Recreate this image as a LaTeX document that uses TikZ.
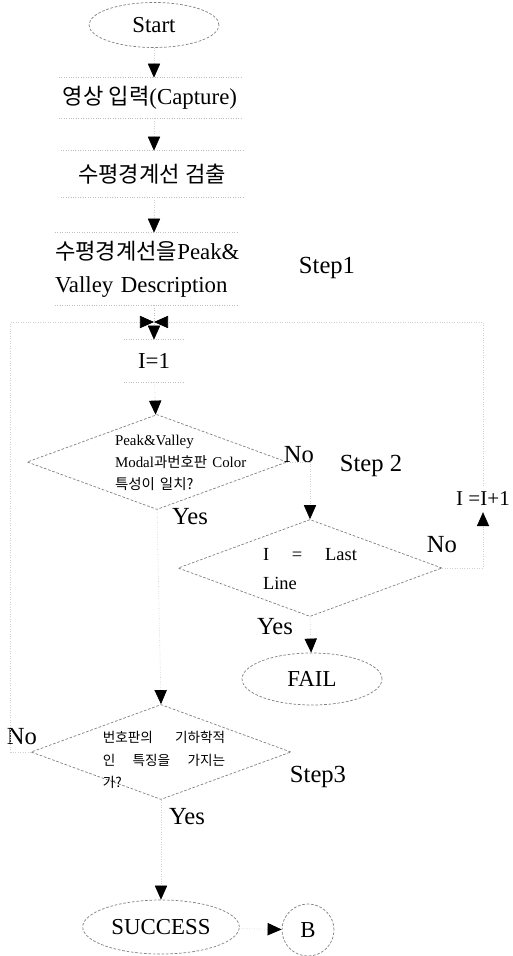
\documentclass[tikz,border=0pt]{standalone}
\usepackage{fontspec}
\setmainfont{Liberation Serif}
\newfontfamily\kr[Scale=0.97]{Noto Sans CJK KR}
\usetikzlibrary{shapes.geometric,arrows.meta}

\begin{document}
\begin{tikzpicture}[x=0.02cm,y=-0.02cm,
    term/.style={draw=black!50,dash pattern=on 1.5pt off 1pt,ellipse,minimum width=2.6cm,minimum height=0.9cm,font=\fontsize{13}{15}\selectfont},
    proc/.style={minimum width=3.64cm,inner sep=0pt,font=\fontsize{13}{15}\selectfont},
    rim/.style={draw=black!25,densely dotted},
    cond/.style={draw=black!50,dash pattern=on 1.5pt off 1pt,diamond,minimum width=5.2cm,minimum height=1.9cm,inner sep=0pt},
    ctext/.style={align=left,inner sep=0pt,font=\fontsize{8.5}{12.5}\selectfont},
    lbl/.style={font=\fontsize{14}{16}\selectfont},
    link/.style={draw=black!18,densely dotted,-{Triangle[length=8pt,width=7pt,color=black]}}]
    \useasboundingbox (0,0) rectangle (513,956);

    % main column
    \node[term] (start) at (154,25) {Start};
    \node[proc,minimum height=0.8cm] (cap) at (150,98) {{\kr 영상 입력}(Capture)};
    \node[proc,minimum height=0.92cm] (det) at (152,174) {\kr 수평경계선 검출};
    \node[proc,minimum height=1.44cm,align=left,text width=3.64cm] (des) at (146,269) {{\kr 수평경계선을}Peak\&\\[4pt]Valley Description};
    \coordinate (join) at (154,322);
    \node[proc,minimum width=1.2cm,minimum height=0.84cm] (init) at (154,361) {I=1};
    \foreach \b in {cap,det,des,init} {
        \draw[rim] (\b.north west) -- (\b.north east) (\b.south west) -- (\b.south east);
    }

    % decisions
    \node[cond] (d1) at (157,462) {};
    \node[ctext,text width=2.8cm] (d1t) at (185,463) {Peak\&Valley\\Modal{\kr 과번호판} Color\\{\kr 특성이 일치?}};
    \node[cond,minimum width=5.28cm,minimum height=1.94cm] (d2) at (310,568) {};
    \node[ctext,text width=1.88cm,font=\fontsize{10.5}{16.5}\selectfont] (d2t) at (310,569) {I\hfill=\hfill Last\\Line};
    \node[cond] (d3) at (161,752) {};
    \node[ctext,text width=2.45cm,font=\fontsize{8}{12.8}\selectfont] (d3t) at (164,760) {{\kr 번호판의}\hfill{\kr 기하학적}\\{\kr 인}\hfill{\kr 특징을}\hfill{\kr 가지는}\\{\kr 가?}};
    \node[term,minimum width=2.8cm,minimum height=1.04cm] (fail) at (312,679) {FAIL};
    \node[term,minimum width=2.8cm,minimum height=1.08cm] (succ) at (161,927) {SUCCESS};
    \node[term,circle,minimum size=1.04cm] (b) at (308,930) {B};
    \node[lbl,font=\fontsize{12}{14}\selectfont] (inc) at (483,499) {I =I+1};

    % labels
    \node[lbl] (no1) at (299,455) {No};
    \node[lbl] (yes1) at (190,517) {Yes};
    \node[lbl] (no2) at (442,545) {No};
    \node[lbl] (yes2) at (275,627) {Yes};
    \node[lbl] (no3) at (22,737) {No};
    \node[lbl] (yes3) at (187,817) {Yes};
    \node[lbl] (s1) at (327,268) {Step1};
    \node[lbl] (s2) at (371,466) {Step 2};
    \node[lbl] (s3) at (318,777) {Step3};

    % connectors
    \draw[link] (start) -- (start |- cap.north);
    \draw[link] (cap.south -| start) -- (det.north -| start);
    \draw[link] (det.south -| start) -- (des.north -| start);
    \draw[rim] (des.south -| join) -- (join);
    \draw[link] (join) -- (init);
    \draw[link] (init) -- (d1);
    \draw[link] (d1.east) -| (d2.north);
    \draw[link] (d1.south) -- (d3.north);
    \draw[link] (d2.south) -- (fail);
    \draw[link] (d2.east) -| (inc.south);
    \draw[link] (inc.north) |- (join);
    \draw[link] (d3.west) -- ++(-20,0) |- (join);
    \draw[link] (d3.south) -- (succ);
    \draw[link] (succ) -- (b);
\end{tikzpicture}
\end{document}
